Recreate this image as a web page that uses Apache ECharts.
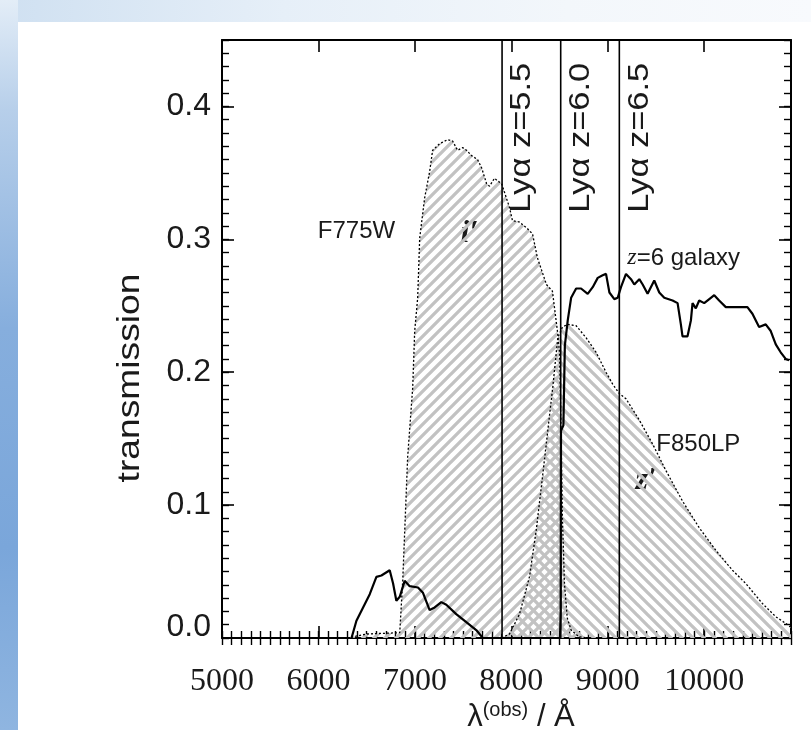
<!DOCTYPE html>
<html><head><meta charset="utf-8">
<script src="https://cdn.jsdelivr.net/npm/echarts@6/dist/echarts.min.js"></script>
<style>
html,body{margin:0;padding:0;background:#fff;}
#wrap{position:relative;width:811px;height:730px;background:#fff;overflow:hidden;}
#leftbar{position:absolute;left:0;top:0;width:18px;height:730px;background:linear-gradient(180deg,#e3edf7 0%,#b7cfea 15%,#86aedd 45%,#7aa6da 75%,#8fb5e0 100%);}
#topbar{position:absolute;left:0;top:0;width:811px;height:22px;background:linear-gradient(90deg,#cfe0f1 0%,#e6eff8 35%,#f3f7fb 70%,#f8fafd 100%);}
#chart{position:absolute;left:0;top:0;width:811px;height:730px;}
</style>
</head><body>
<div id="wrap"><div id="topbar"></div><div id="leftbar"></div><div id="chart"></div></div>
<script>
// ---- data (wavelength in Å, transmission) ----
const xTicks = [5000, 6000, 7000, 8000, 9000, 10000];
const yTicks = [0.0, 0.1, 0.2, 0.3, 0.4];

// i' (F775W) filter curve
const iFilter = [
  [6300,0],[6500,0.003],[6843,0.004],[6874,0.043],[6925,0.136],[6977,0.188],[6998,0.231],
  [7029,0.256],[7050,0.301],[7101,0.331],[7153,0.351],[7184,0.367],[7257,0.372],[7340,0.375],
  [7391,0.374],[7443,0.367],[7495,0.369],[7536,0.367],[7588,0.363],[7650,0.360],[7691,0.354],
  [7743,0.342],[7774,0.340],[7826,0.346],[7857,0.344],[7899,0.342],[7981,0.324],[8012,0.314],
  [8085,0.313],[8168,0.308],[8220,0.304],[8271,0.286],[8364,0.266],[8426,0.261],[8478,0.231],
  [8500,0.215],[8515,0.160],[8530,0.090],[8551,0.041],[8580,0.015],[8620,0.006],[8700,0.001],[8800,0]
];

// z' (F850LP) filter curve
const zFilter = [
  [7900,0],[7981,0.003],[8085,0.018],[8188,0.046],[8258,0.081],[8326,0.123],[8378,0.156],
  [8430,0.189],[8482,0.226],[8530,0.234],[8585,0.236],[8672,0.235],[8775,0.226],[8879,0.215],
  [8982,0.200],[9051,0.191],[9120,0.184],[9189,0.180],[9327,0.164],[9465,0.146],[9603,0.126],
  [9775,0.103],[9948,0.083],[10120,0.066],[10293,0.051],[10431,0.041],[10603,0.026],
  [10742,0.016],[10845,0.011],[10900,0.008]
];

// z=6 galaxy spectrum
const galaxy = [
  [6343,0],[6394,0.013],[6463,0.023],[6532,0.033],[6601,0.046],[6653,0.047],[6739,0.051],
  [6774,0.041],[6808,0.028],[6843,0.031],[6894,0.043],[6946,0.039],[7032,0.038],[7084,0.034],
  [7153,0.021],[7205,0.023],[7274,0.027],[7326,0.025],[7429,0.018],[7533,0.012],[7636,0.006],
  [7705,0],[8505,0],[8512,0.020],[8515,0.156],[8540,0.160],[8555,0.220],[8585,0.239],
  [8620,0.256],[8672,0.263],[8723,0.263],[8792,0.259],[8844,0.264],[8896,0.271],[8947,0.273],
  [8982,0.274],[9017,0.260],[9068,0.255],[9103,0.256],[9137,0.264],[9189,0.274],[9241,0.270],
  [9275,0.266],[9327,0.270],[9362,0.266],[9413,0.259],[9482,0.269],[9534,0.260],[9586,0.256],
  [9672,0.254],[9724,0.252],[9758,0.236],[9775,0.227],[9827,0.227],[9862,0.239],[9879,0.252],
  [9913,0.248],[9948,0.254],[10000,0.252],[10069,0.256],[10104,0.258],[10155,0.254],
  [10224,0.249],[10293,0.249],[10448,0.249],[10500,0.244],[10569,0.234],[10638,0.236],
  [10690,0.231],[10742,0.221],[10793,0.215],[10845,0.210],[10880,0.209]
];

// Lyman-alpha lines
const lyaZ = ['5.5', '6.0', '6.5'];
const lyaWave = [7904, 8512, 9120];

// ---- hatch patterns ----
function hatch(dir) {
  const p = 11;
  const c = document.createElement('canvas');
  c.width = p; c.height = p;
  const g = c.getContext('2d');
  g.strokeStyle = '#c2c2c2';
  g.lineWidth = 3.3;
  g.beginPath();
  if (dir > 0) {
    g.moveTo(-p, p); g.lineTo(p, -p);
    g.moveTo(0, p); g.lineTo(p, 0);
    g.moveTo(0, 2*p); g.lineTo(2*p, 0);
  } else {
    g.moveTo(-p, 0); g.lineTo(p, 2*p);
    g.moveTo(0, 0); g.lineTo(p, p);
    g.moveTo(0, -p); g.lineTo(2*p, p);
  }
  g.stroke();
  return c;
}

const chart = echarts.init(document.getElementById('chart'), null, {renderer:'canvas'});
const XMIN = 5000, XMAX = 10900, YMIN = 0, YMAX = 0.45;
const axisCol = '#000';
const sans = 'Liberation Sans, Arial, sans-serif';
const serif = 'Liberation Serif, Times New Roman, serif';

function majorX(pos, labels) {
  return {
    type:'value', position:pos, min:XMIN, max:XMAX, interval:1000,
    axisLine:{show:true, onZero:false, lineStyle:{color:axisCol, width:2}},
    axisTick:{show:true, inside:true, length:12, lineStyle:{color:axisCol, width:1.6}},
    axisLabel:{show:labels, showMaxLabel:false, fontFamily:serif, fontSize:32, color:'#1a1a1a', margin:28,
      formatter: v => String(Math.round(v))},
    splitLine:{show:false}
  };
}
function minorX(pos) {
  return {
    type:'value', position:pos, min:XMIN, max:XMAX, interval:100,
    axisLine:{show:false},
    axisTick:{show:true, inside:true, length:7, lineStyle:{color:axisCol, width:1.4}},
    axisLabel:{show:false}, splitLine:{show:false}
  };
}
function majorY(pos, labels) {
  return {
    type:'value', position:pos, min:YMIN, max:YMAX, interval:0.1,
    axisLine:{show:true, onZero:false, lineStyle:{color:axisCol, width:2}},
    axisTick:{show:true, inside:true, length:12, lineStyle:{color:axisCol, width:1.6}},
    axisLabel:{show:labels, showMaxLabel:false, fontFamily:sans, fontSize:32, color:'#1a1a1a', margin:11,
      formatter: v => Math.abs(v) < 1e-9 ? '{z|0.0}' : v.toFixed(1),
      rich:{z:{fontFamily:sans, fontSize:32, color:'#1a1a1a', padding:[0,0,22,0]}}},
    splitLine:{show:false}
  };
}
function minorY(pos) {
  return {
    type:'value', position:pos, min:YMIN, max:YMAX, interval:0.01,
    axisLine:{show:false},
    axisTick:{show:true, inside:true, length:7, lineStyle:{color:axisCol, width:1.4}},
    axisLabel:{show:false}, splitLine:{show:false}
  };
}

const series = [
  {
    type:'line', name:"i'", data:iFilter, xAxisIndex:0, yAxisIndex:0,
    showSymbol:false, smooth:false, z:2,
    lineStyle:{color:'#000', width:1.3, type:[2,2]},
    areaStyle:{color:{image:hatch(1), repeat:'repeat'}, opacity:1, origin:'start'}
  },
  {
    type:'line', name:"z'", data:zFilter, xAxisIndex:0, yAxisIndex:0,
    showSymbol:false, smooth:false, z:2,
    lineStyle:{color:'#000', width:1.3, type:[2,2]},
    areaStyle:{color:{image:hatch(-1), repeat:'repeat'}, opacity:1, origin:'start'}
  },
  {
    type:'line', name:'galaxy', data:galaxy, xAxisIndex:0, yAxisIndex:0,
    showSymbol:false, z:4,
    lineStyle:{color:'#000', width:2.2}
  }
];
lyaWave.forEach((w, k) => {
  series.push({
    type:'line', name:'Lya '+lyaZ[k], data:[[w, YMIN], [w, YMAX]],
    xAxisIndex:0, yAxisIndex:0, showSymbol:false, z:5,
    lineStyle:{color:'#000', width:1.6}
  });
});

chart.setOption({
  animation:false,
  backgroundColor:'transparent',
  grid:{left:222, right:20, top:40, bottom:92, containLabel:false},
  xAxis:[majorX('bottom', true), minorX('bottom'), majorX('top', false), minorX('top')],
  yAxis:[majorY('left', true), minorY('left'), majorY('right', false), minorY('right')],
  series:series
});

// ---- annotations ----
const P = (x, y) => chart.convertToPixel({xAxisIndex:0, yAxisIndex:0}, [x, y]);
const graphics = [];
lyaWave.forEach((w, k) => {
  const p = P(w, 0.32);
  graphics.push({
    type:'text', x:p[0] + 5, y:p[1], rotation:Math.PI/2, scaleX:1.15, scaleY:1,
    style:{text:'Lyα z=' + lyaZ[k], fontFamily:sans, fontSize:30, fill:'#1a1a1a', align:'left', verticalAlign:'top'}
  });
});
const pF775 = P(5994, 0.306);
graphics.push({type:'text', x:pF775[0], y:pF775[1],
  style:{text:'F775W', fontFamily:sans, fontSize:24, fill:'#1a1a1a', align:'left', verticalAlign:'middle'}});
const pF850 = P(9503, 0.146);
graphics.push({type:'text', x:pF850[0], y:pF850[1],
  style:{text:'F850LP', fontFamily:sans, fontSize:24, fill:'#1a1a1a', align:'left', verticalAlign:'middle'}});
const pGal = P(9203, 0.286);
graphics.push({type:'text', x:pGal[0], y:pGal[1],
  style:{text:'{it|z}=6 galaxy', fontFamily:sans, fontSize:24, fill:'#1a1a1a', align:'left', verticalAlign:'middle',
    rich:{it:{fontFamily:serif, fontStyle:'italic', fontSize:24, fill:'#1a1a1a'}}}});
const pI = P(7567, 0.304);
graphics.push({type:'text', x:pI[0], y:pI[1],
  style:{text:'i′', fontFamily:serif, fontStyle:'italic', fontWeight:'bold', fontSize:32, fill:'#1a1a1a', align:'center', verticalAlign:'middle'}});
const pZ = P(9400, 0.118);
graphics.push({type:'text', x:pZ[0], y:pZ[1],
  style:{text:'z′', fontFamily:serif, fontStyle:'italic', fontWeight:'bold', fontSize:32, fill:'#1a1a1a', align:'center', verticalAlign:'middle'}});
// axis titles
graphics.push({type:'text', x:130, y:378, rotation:Math.PI/2, scaleX:1.2, scaleY:1,
  style:{text:'transmission', fontFamily:sans, fontSize:31, fill:'#1a1a1a', align:'center', verticalAlign:'middle'}});
graphics.push({type:'text', x:521, y:717,
  style:{text:'{a|λ}{s|(obs)}{a| / Å}', fill:'#1a1a1a', align:'center', verticalAlign:'middle',
    rich:{a:{fontFamily:sans, fontSize:31, fill:'#1a1a1a'},
          s:{fontFamily:sans, fontSize:20, fill:'#1a1a1a', padding:[0,0,13,0]}}}});
chart.setOption({graphic:graphics});
</script>
</body></html>
